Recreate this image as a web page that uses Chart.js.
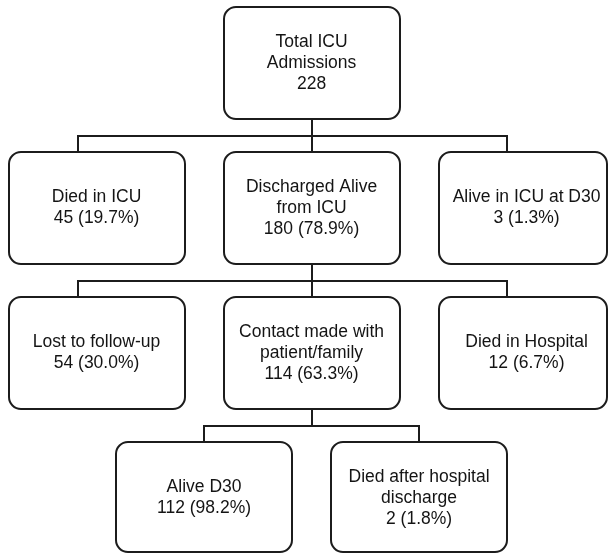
<!DOCTYPE html>
<html>
<head>
<meta charset="utf-8">
<script src="https://cdn.jsdelivr.net/npm/chart.js@4/dist/chart.umd.min.js"></script>
<style>
  html, body { margin: 0; padding: 0; background: #fff; }
  #wrap { width: 609px; height: 554px; position: relative; }
</style>
</head>
<body>
<div id="wrap"><canvas id="flow"></canvas></div>
<script>
// flowchart data
const nodeNames = [
    ['Total ICU', 'Admissions'],
    ['Died in ICU'],
    ['Discharged Alive', 'from ICU'],
    ['Alive in ICU at D30'],
    ['Lost to follow-up'],
    ['Contact made with', 'patient/family'],
    ['Died in Hospital'],
    ['Alive D30'],
    ['Died after hospital', 'discharge']
];
const nodeCounts = [228, 45, 180, 3, 54, 114, 12, 112, 2];
const nodePercents = [null, '19.7%', '78.9%', '1.3%', '30.0%', '63.3%', '6.7%', '98.2%', '1.8%'];
const nodeParents = [null, 0, 0, 0, 2, 2, 2, 5, 5];

// layout: level = row, slot = column (scale units)
const layout = {
    levels: [0, 1, 1, 1, 2, 2, 2, 3, 3],
    slots: [0, -2, 0, 2, -2, 0, 2, -1, 1],
    anchors: [0, -2.172, 0, 1.819, -2.172, 0, 1.819, -1, 1],
    boxW: 1.637,
    boxH: 0.772,
    radius: 12,
    lineH: 21
};

function nodeLines(i) {
    let last = nodePercents[i] ? nodeCounts[i] + ' (' + nodePercents[i] + ')' : String(nodeCounts[i]);
    return nodeNames[i].concat([last]);
}

const flowPlugin = {
    id: 'flowBoxes',
    afterDatasetsDraw(chart) {
        const ctx = chart.ctx;
        const area = chart.chartArea;
        const xs = chart.scales.x;
        const ys = chart.scales.y;
        const pts = chart.getDatasetMeta(0).data;
        const halfW = (xs.getPixelForValue(layout.boxW) - xs.getPixelForValue(0)) / 2;
        const halfH = Math.abs(ys.getPixelForValue(layout.boxH) - ys.getPixelForValue(0)) / 2;

        ctx.save();
        ctx.strokeStyle = '#1c1c1c';
        ctx.lineWidth = 2;

        // connectors: parent -> elbow line -> each child
        const parents = [...new Set(nodeParents.filter(p => p !== null))];
        parents.forEach(p => {
            const kids = nodeParents.map((q, i) => q === p ? i : -1).filter(i => i >= 0);
            const px = Math.round(pts[p].x);
            const bottom = pts[p].y + halfH;
            const top = pts[kids[0]].y - halfH;
            const midY = Math.round((bottom + top) / 2);
            const ax = kids.map(k => Math.round(xs.getPixelForValue(layout.anchors[k])));
            ctx.beginPath();
            ctx.moveTo(px, bottom);
            ctx.lineTo(px, midY);
            ctx.moveTo(Math.min(...ax) - 1, midY);
            ctx.lineTo(Math.max(...ax) + 1, midY);
            kids.forEach((k, j) => {
                ctx.moveTo(ax[j], midY);
                ctx.lineTo(ax[j], pts[k].y - halfH);
            });
            ctx.stroke();
        });

        // boxes
        ctx.font = "17.5px 'Liberation Sans', Arial, sans-serif";
        ctx.textAlign = 'center';
        ctx.textBaseline = 'middle';
        pts.forEach((pt, i) => {
            const l = Math.round(pt.x - halfW);
            const r = Math.min(Math.round(pt.x + halfW), area.right - 2);
            const t = Math.round(pt.y - halfH);
            const b = Math.min(Math.round(pt.y + halfH), area.bottom - 2);
            ctx.beginPath();
            ctx.roundRect(l, t, r - l, b - t, layout.radius);
            ctx.fillStyle = '#ffffff';
            ctx.fill();
            ctx.stroke();
            const lines = nodeLines(i);
            const cy = pt.y - (lines.length - 1) * layout.lineH / 2;
            ctx.fillStyle = '#141414';
            lines.forEach((s, j) => {
                ctx.fillText(s, pt.x, cy + j * layout.lineH);
            });
        });
        ctx.restore();
    }
};

new Chart(document.getElementById('flow'), {
    type: 'scatter',
    data: {
        datasets: [{
            data: layout.slots.map((s, i) => ({ x: s, y: layout.levels[i] })),
            pointRadius: 0,
            pointHoverRadius: 0
        }]
    },
    options: {
        responsive: true,
        maintainAspectRatio: false,
        animation: false,
        layout: { padding: 0 },
        plugins: { legend: { display: false }, tooltip: { enabled: false } },
        scales: {
            x: { type: 'linear', display: false, min: -2.898, max: 2.767 },
            y: { type: 'linear', display: false, min: -0.4345, max: 3.386, reverse: true }
        }
    },
    plugins: [flowPlugin]
});
</script>
</body>
</html>
